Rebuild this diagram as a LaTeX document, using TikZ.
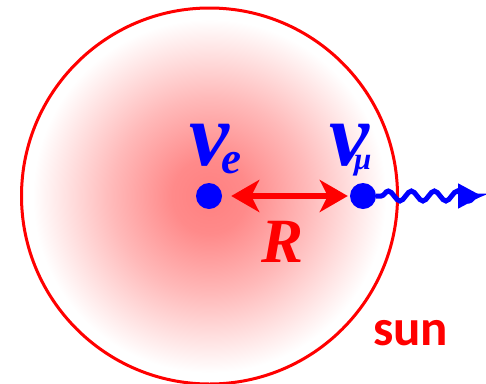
\documentclass[tikz,border=0pt]{standalone}
\usepackage{fontspec}
\setmainfont{Liberation Serif}
\newfontfamily\sunfont{Carlito}
\usetikzlibrary{arrows.meta,decorations.pathmorphing}
\definecolor{sunred}{RGB}{255,0,0}
\definecolor{nublue}{RGB}{0,0,255}
\definecolor{suncore}{RGB}{255,128,128}
\pgfdeclareradialshading{sunshade}{\pgfpoint{0bp}{0bp}}{color(0bp)=(suncore); color(5bp)=(suncore!92!white); color(13bp)=(suncore!55!white); color(23.5bp)=(white); color(50bp)=(white)}
\tikzset{
  sunball/.style={circle, draw=sunred, line width=3pt, shading=sunshade, minimum size=376pt, inner sep=0pt},
  nudot/.style={circle, fill=nublue, minimum size=26pt, inner sep=0pt},
  rarrow/.style={draw=sunred, line width=6pt, {Stealth[length=28pt,width=32pt,inset=8pt]}-{Stealth[length=28pt,width=32pt,inset=8pt]}},
  wave/.style={draw=nublue, line width=5pt, decorate, decoration={snake, amplitude=5pt, segment length=23pt, pre length=5pt, post length=3pt}, -{Triangle[length=24pt,width=24pt]}},
  nulabel/.style={text=nublue, inner sep=0pt, anchor=base west, font=\fontsize{90}{90}\selectfont\bfseries\itshape},
}
\begin{document}
\begin{tikzpicture}[x=1pt,y=-1pt]
\useasboundingbox (0,0) rectangle (486,383);
\node[sunball] (sun) at (209.5,196) {};
\node[nudot] (ve) at (209,196) {};
\node[nudot] (vm) at (363,196) {};
\draw[rarrow, shorten <=9pt, shorten >=2pt] (ve) -- (vm);
\coordinate (wend) at (482,196);
\draw[wave] (vm.east) -- (wend);
\node[nulabel] (lve) at (189,165) {\makebox[32pt][l]{ν}\raisebox{-8pt}{\fontsize{45}{45}\selectfont e}};
\node[nulabel] (lvm) at (329,165) {\makebox[25pt][l]{ν}\raisebox{-4pt}{\fontsize{31}{31}\selectfont μ}};
\node[text=sunred, inner sep=0pt, anchor=base, font=\fontsize{63}{63}\selectfont\bfseries\itshape] (rl) at (283,262) {R};
\node[text=sunred, inner sep=0pt, anchor=base west, font=\sunfont\fontsize{51}{51}\selectfont\bfseries] (sunlabel) at (373,345) {sun};
\end{tikzpicture}
\end{document}
